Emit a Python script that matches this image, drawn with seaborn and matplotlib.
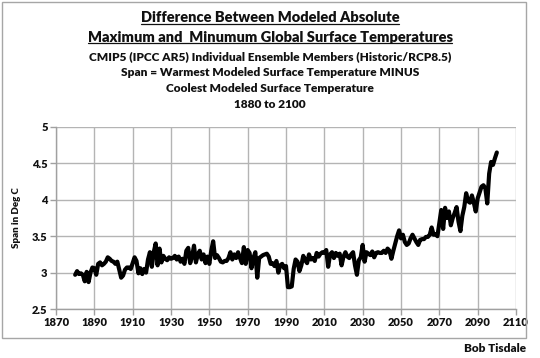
import numpy as np
import pandas as pd
import matplotlib
matplotlib.use("Agg")
import matplotlib.pyplot as plt
import seaborn as sns
from matplotlib.lines import Line2D
from matplotlib.patches import Rectangle

years = list(range(1880, 2101))
span = [
    2.97, 3.02, 2.98, 2.99, 2.97, 2.88, 3.01, 2.87, 3.00, 3.07,
    3.06, 2.97, 3.12, 3.14, 3.10, 3.12, 3.15, 3.21, 3.19, 3.16,
    3.15, 3.12, 3.15, 3.04, 2.93, 2.96, 3.04, 3.07, 3.07, 3.05,
    3.13, 3.21, 3.16, 2.99, 3.06, 2.98, 3.05, 3.00, 3.18, 3.28,
    3.08, 3.28, 3.40, 3.10, 3.33, 3.14, 3.23, 3.19, 3.17, 3.21,
    3.19, 3.20, 3.23, 3.18, 3.22, 3.15, 3.19, 3.12, 3.30, 3.34,
    3.13, 3.22, 3.37, 3.14, 3.25, 3.30, 3.18, 3.25, 3.13, 3.22,
    3.12, 3.30, 3.43, 3.20, 3.24, 3.20, 3.15, 3.14, 3.16, 3.16,
    3.20, 3.28, 3.18, 3.25, 3.20, 3.28, 3.20, 3.13, 3.35, 3.12,
    3.31, 3.27, 3.06, 3.20, 3.28, 2.93, 3.20, 3.22, 3.24, 3.25,
    3.26, 3.22, 3.12, 3.13, 3.09, 3.16, 3.00, 3.10, 3.12, 3.06,
    3.09, 2.80, 2.80, 2.81, 3.05, 3.18, 3.15, 3.02, 3.10, 3.23,
    3.17, 3.13, 3.25, 3.18, 3.20, 3.16, 3.27, 3.22, 3.26, 3.28,
    3.27, 3.31, 3.08, 3.25, 3.28, 3.20, 3.27, 3.23, 3.26, 3.10,
    3.22, 3.28, 3.22, 3.20, 3.25, 3.28, 3.10, 2.97, 3.17, 3.21,
    3.38, 3.15, 3.28, 3.26, 3.24, 3.29, 3.21, 3.27, 3.28, 3.27,
    3.27, 3.30, 3.27, 3.33, 3.30, 3.19, 3.30, 3.40, 3.50, 3.58,
    3.47, 3.52, 3.42, 3.38, 3.40, 3.47, 3.52, 3.47, 3.42, 3.38,
    3.45, 3.46, 3.46, 3.49, 3.49, 3.52, 3.62, 3.52, 3.53, 3.50,
    3.68, 3.86, 3.60, 3.89, 3.75, 3.84, 3.65, 3.75, 3.82, 3.90,
    3.70, 3.57, 3.78, 3.90, 4.09, 3.98, 3.96, 4.06, 3.96, 3.84,
    4.02, 4.10, 4.18, 4.20, 4.16, 3.95, 4.36, 4.52, 4.48, 4.57,
    4.65,
]
x_ticks = list(range(1870, 2111, 20))
y_ticks = [2.5, 3, 3.5, 4, 4.5, 5]
y_tick_labels = ["2.5", "3", "3.5", "4", "4.5", "5"]

title_lines = ["Difference Between Modeled Absolute",
               "Maximum and  Minumum Global Surface Temperatures"]
subtitle_lines = ["CMIP5 (IPCC AR5) Individual Ensemble Members (Historic/RCP8.5)",
                  "Span = Warmest Modeled Surface Temperature MINUS",
                  "Coolest Modeled Surface Temperature",
                  "1880 to 2100"]
y_label = "Span in Deg C"
credit = "Bob Tisdale"

df = pd.DataFrame({"Year": years, "Span": span})

sns.set_style("white")
plt.rcParams["font.family"] = ["Lato", "DejaVu Sans"]

W, H = 540, 358
fig = plt.figure(figsize=(W / 100, H / 100), dpi=100)
fig.patch.set_facecolor("white")

# chart frame
fig.patches.append(Rectangle((2 / W, 1 - 338 / H), 524 / W, 336 / H,
                             transform=fig.transFigure, fill=False,
                             edgecolor="#a6a6a6", linewidth=1.0))

ax = fig.add_axes([56 / W, 1 - 309 / H, 460 / W, 182 / H])
sns.lineplot(data=df, x="Year", y="Span", ax=ax, color="black",
             linewidth=3.0, solid_joinstyle="round", solid_capstyle="round")

ax.set_xlim(1870, 2110)
ax.set_ylim(2.5, 5)
ax.set_xticks(x_ticks)
ax.set_xticklabels([str(t) for t in x_ticks])
ax.set_yticks(y_ticks)
ax.set_yticklabels(y_tick_labels)
ax.grid(True, color="#b4b4b4", linewidth=1.0)
ax.set_axisbelow(True)
for side in ["top", "right"]:
    ax.spines[side].set_visible(False)
for side in ["left", "bottom"]:
    ax.spines[side].set_color("#a0a0a0")
    ax.spines[side].set_linewidth(1.0)
ax.tick_params(axis="both", which="both", direction="out", length=4,
               width=1, color="#a0a0a0", labelsize=8, pad=2,
               bottom=True, left=True)
for lbl in ax.get_xticklabels() + ax.get_yticklabels():
    lbl.set_fontweight("heavy")
    lbl.set_color("#111111")
ax.set_xlabel("")
ax.set_ylabel(y_label, fontsize=7, fontweight="heavy", color="#111111", labelpad=8)

cx = 270 / W
texts = []
ys_title = [18, 37]
for t, yy in zip(title_lines, ys_title):
    texts.append(fig.text(cx, 1 - yy / H, t, ha="center", va="center",
                          fontsize=10.5, fontweight="heavy", color="#111111"))
ys_sub = [57, 73, 89, 105]
for t, yy in zip(subtitle_lines, ys_sub):
    fig.text(cx, 1 - yy / H, t, ha="center", va="center",
             fontsize=8.6, fontweight="heavy", color="#111111")

fig.text(526 / W, 1 - 349 / H, credit, ha="right", va="center",
         fontsize=8.5, fontweight="heavy", color="#111111")

# underline the two title lines
fig.canvas.draw()
r = fig.canvas.get_renderer()
for t in texts:
    bb = t.get_window_extent(renderer=r)
    yline = bb.y0 + 1.0
    fig.lines.append(Line2D([bb.x0 / W, bb.x1 / W], [yline / H, yline / H],
                            transform=fig.transFigure, color="#111111",
                            linewidth=0.9))

fig.savefig("out.png", dpi=100)
